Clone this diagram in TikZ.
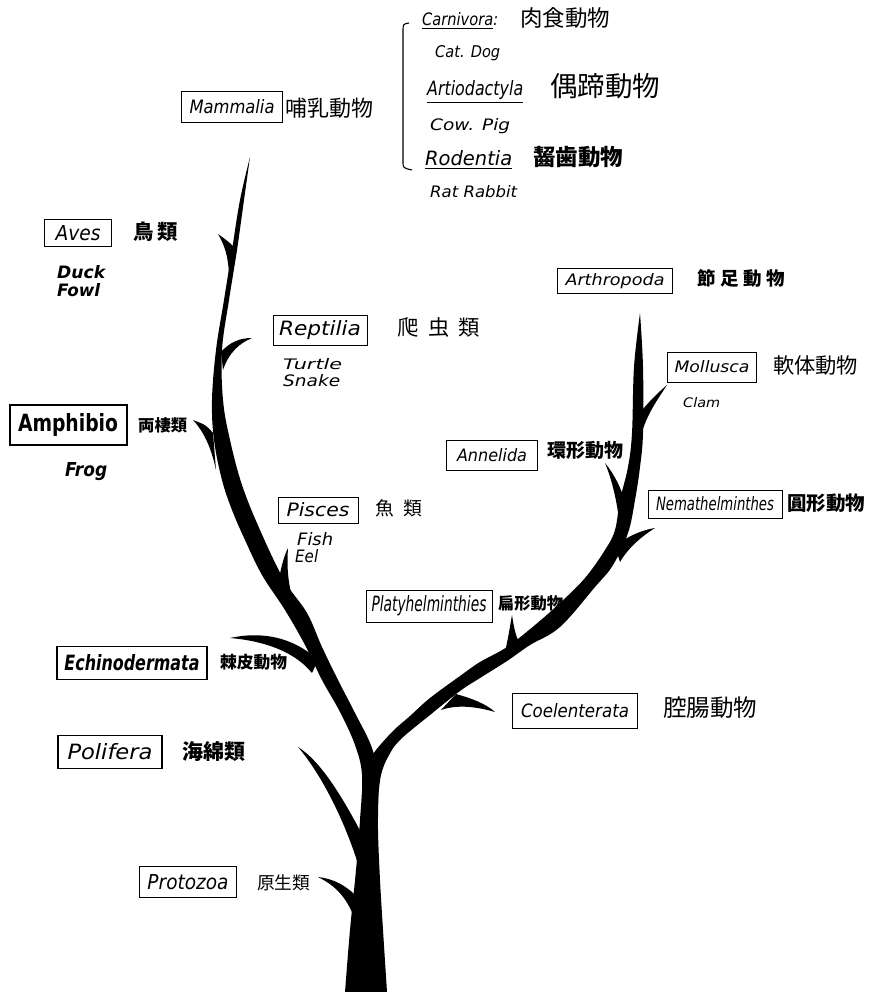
\documentclass[tikz,border=0pt]{standalone}
\usepackage{fontspec}
\usepackage{graphicx}
\setsansfont{DejaVu Sans}
\newfontfamily\cjk{Noto Sans CJK JP}
% scale a piece of text to a given width and letter height (in pt)
\newcommand{\fitto}[3]{\resizebox{#1pt}{#2pt}{#3}}
% scale a piece of text to a given width (in pt), keeping its proportions
\newcommand{\fitw}[2]{\resizebox{#1pt}{!}{#2}}
\tikzset{
  taxon/.style={draw, line width=1pt, inner sep=0pt, font=\sffamily\itshape},
  kanji/.style={anchor=west, inner sep=0pt, font=\cjk},
  heavy/.style={font=\cjk\bfseries},
  note/.style={anchor=west, inner sep=0pt, font=\sffamily\itshape},
  wood/.style={fill=black}
}
\begin{document}
\begin{tikzpicture}[x=1pt,y=-1pt]
\useasboundingbox (0,0) rectangle (871,992);

% ---------- trunk and left (vertebrate) limb ----------
\fill[wood] plot[smooth, tension=0.6] coordinates {
  (345,992) (350,930) (356,870) (360,820) (362,775) (355,745) (340,712)
  (322,680) (305,645) (285,610) (262,575) (245,540) (232,510) (222,480)
  (214,440) (212,400) (216,350) (224,300) (232,250) (240,200) (250,157)}
  -- plot[smooth, tension=0.6] coordinates {
  (250,157) (244,200) (237,250) (229,300) (222,350) (223,400) (230,440)
  (242,485) (260,530) (284,580) (307,613) (322,647) (338,680) (355,713)
  (372,748) (378,780) (378,830) (380,880) (383,930) (387,992)} -- cycle;

% ---------- right (invertebrate) limb ----------
\fill[wood] plot[smooth, tension=0.6] coordinates {
  (370,760) (376,750) (393,731) (410,716) (430,698) (460,676) (480,662)
  (507,647) (535,625) (560,603) (585,578) (605,550) (615,530) (620,500)
  (628,467) (632,433) (634,367) (640,313)}
  -- plot[smooth, tension=0.6] coordinates {
  (640,313) (643,367) (643,433) (640,467) (635,500) (628,533) (613,565)
  (595,587) (560,627) (530,645) (507,661) (480,678) (460,691) (430,715)
  (400,740) (388,757) (381,775) (378,800)} -- cycle;

% ---------- side twigs ----------
% Aves
\fill[wood] (237,250) .. controls (229,242) .. (218,234)
  .. controls (225,246) and (228,256) .. (229,274) -- cycle;
% Reptilia
\fill[wood] (221,352) .. controls (230,342) and (240,338) .. (252,338)
  .. controls (240,343) and (229,352) .. (223,370) -- cycle;
% Amphibia
\fill[wood] (213,433) .. controls (206,425) .. (193,420)
  .. controls (204,432) and (211,447) .. (216,470) -- cycle;
% Pisces
\fill[wood] (277,590) .. controls (280,572) and (283,558) .. (288,548)
  .. controls (287,562) and (287,580) .. (293,600) -- cycle;
% Echinodermata
\fill[wood] (230,638) .. controls (262,631) and (293,637) .. (318,660)
  -- (312,673) .. controls (295,652) and (265,641) .. (230,638) -- cycle;
% Polifera
\fill[wood] (298,747) .. controls (322,762) and (344,800) .. (364,838)
  -- (358,864) .. controls (345,822) and (322,775) .. (298,747) -- cycle;
% Protozoa
\fill[wood] (318,877) .. controls (336,879) and (349,888) .. (358,898)
  -- (354,917) .. controls (346,897) and (336,886) .. (318,877) -- cycle;
% Coelenterata
\fill[wood] (456,694) .. controls (470,698) and (485,703) .. (495,712)
  .. controls (478,707) and (458,704) .. (441,710) -- cycle;
% Platyhelminthes
\fill[wood] (504,656) .. controls (508,640) and (510,626) .. (512,615)
  .. controls (514,628) and (516,640) .. (523,648) -- cycle;
% Nemathelminthes
\fill[wood] (615,546) .. controls (628,536) and (642,530) .. (655,528)
  .. controls (642,536) and (628,548) .. (620,562) -- cycle;
% Annelida
\fill[wood] (605,463) .. controls (615,475) and (622,490) .. (626,505)
  -- (620,528) .. controls (617,500) and (612,480) .. (605,463) -- cycle;
% Mollusca
\fill[wood] (639,414) .. controls (650,400) and (660,391) .. (667,385)
  .. controls (660,396) and (648,412) .. (642,432) -- cycle;

% ---------- boxed class names ----------
\node[taxon, minimum width=101pt, minimum height=31pt] (mam)  at (232,107) {\fitto{85}{14}{Mammalia}};
\node[taxon, minimum width=67pt,  minimum height=27pt] (aves) at (78,233)  {\fitto{45}{15}{Aves}};
\node[taxon, minimum width=94pt,  minimum height=30pt] (rept) at (320,330) {\fitto{82}{15}{Reptilia}};
\node[taxon, minimum width=117pt, minimum height=40pt, line width=2pt, font=\sffamily\bfseries] (amph) at (68,425) {\fitto{100}{18}{Amphibio}};
\node[taxon, minimum width=80pt,  minimum height=26pt] (pisc) at (318,510) {\fitto{63}{14}{Pisces}};
\node[taxon, minimum width=126pt, minimum height=32pt] (plat) at (429,606) {\fitto{115}{16}{Platyhelminthies}};
\node[taxon, minimum width=125pt, minimum height=35pt] (coel) at (575,711) {\fitto{108}{14}{Coelenterata}};
\node[taxon, minimum width=150pt, minimum height=33pt, line width=1.4pt, font=\sffamily\bfseries\itshape] (echi) at (132,663) {\fitto{135}{16}{Echinodermata}};
\node[taxon, minimum width=104pt, minimum height=33pt, line width=1.4pt] (poli) at (110,752) {\fitto{85}{16}{Polifera}};
\node[taxon, minimum width=97pt,  minimum height=31pt] (prot) at (188,882) {\fitto{81}{15}{Protozoa}};
\node[taxon, minimum width=115pt, minimum height=25pt] (arth) at (615,281) {\fitto{99}{12}{Arthropoda}};
\node[taxon, minimum width=89pt,  minimum height=30pt] (moll) at (712,367) {\fitto{75}{12}{Mollusca}};
\node[taxon, minimum width=91pt,  minimum height=30pt] (anne) at (492,455) {\fitto{70}{13}{Annelida}};
\node[taxon, minimum width=134pt, minimum height=28pt] (nema) at (715,504) {\fitto{118}{14}{Nemathelminthes}};

% ---------- Japanese names ----------
\node[kanji] (mamj)  at (285,108) {\fitw{88}{哺乳動物}};
\node[kanji] (carnj) at (520,18)  {\fitw{90}{肉食動物}};
\node[kanji] (artij) at (550,86)  {\fitw{110}{偶蹄動物}};
\node[kanji, heavy] (rodej) at (533,157) {\fitw{90}{齧歯動物}};
\node[kanji, heavy] (avesj) at (133,232) {\fitw{45}{鳥\hspace{0.2em}類}};
\node[kanji] (reptj) at (397,327) {\fitw{83}{爬\hspace{0.45em}虫\hspace{0.45em}類}};
\node[kanji, heavy] (amphj) at (138,425) {\fitw{49}{両棲類}};
\node[kanji] (piscj) at (375,508) {\fitw{47}{魚\hspace{0.5em}類}};
\node[kanji, heavy] (platj) at (498,603) {\fitw{65}{扁形動物}};
\node[kanji] (coelj) at (663,708) {\fitw{94}{腔腸動物}};
\node[kanji, heavy] (echij) at (220,662) {\fitw{67}{棘皮動物}};
\node[kanji, heavy] (polij) at (182,752) {\fitw{63}{海綿類}};
\node[kanji] (protj) at (257,883) {\fitw{53}{原生類}};
\node[kanji, heavy] (arthj) at (697,278) {\fitw{88}{節\hspace{0.25em}足\hspace{0.25em}動\hspace{0.25em}物}};
\node[kanji] (mollj) at (773,365) {\fitw{85}{軟体動物}};
\node[kanji, heavy] (annej) at (547,450) {\fitw{76}{環形動物}};
\node[kanji, heavy] (nemaj) at (787,503) {\fitw{78}{圓形動物}};

% ---------- orders of Mammalia ----------
\draw[line width=1.1pt] (409,23) .. controls (403,24) .. (403,32) -- (403,161)
  .. controls (403,168) .. (412,170);
\node[note] (carn)   at (422,21)  {\fitto{76}{13}{\underline{Carnivora}:}};
\node[note] (catdog) at (435,53)  {\fitto{65}{12}{Cat. Dog}};
\node[note] (arti)   at (427,92)  {\fitto{96}{15}{\underline{Artiodactyla}}};
\node[note] (cowpig) at (430,126) {\fitto{80}{12}{Cow. Pig}};
\node[note] (rode)   at (425,160) {\fitto{87}{15}{\underline{Rodentia}}};
\node[note] (ratrab) at (430,192) {\fitto{87}{12}{Rat Rabbit}};

% ---------- examples ----------
\node[note, font=\sffamily\bfseries\itshape] (duck)   at (57,272)  {\fitto{48}{13}{Duck}};
\node[note, font=\sffamily\bfseries\itshape] (fowl)   at (57,290)  {\fitto{43}{13}{Fowl}};
\node[note] (turtle) at (283,364) {\fitto{59}{11}{Turtle}};
\node[note] (snake)  at (283,381) {\fitto{57}{12}{Snake}};
\node[note, font=\sffamily\bfseries\itshape] (frog)   at (65,472)  {\fitto{42}{14}{Frog}};
\node[note] (fish)   at (297,539) {\fitto{36}{13}{Fish}};
\node[note] (eel)    at (295,556) {\fitto{23}{13}{Eel}};
\node[note] (clam)   at (683,403) {\fitto{37}{10}{Clam}};
\end{tikzpicture}
\end{document}
